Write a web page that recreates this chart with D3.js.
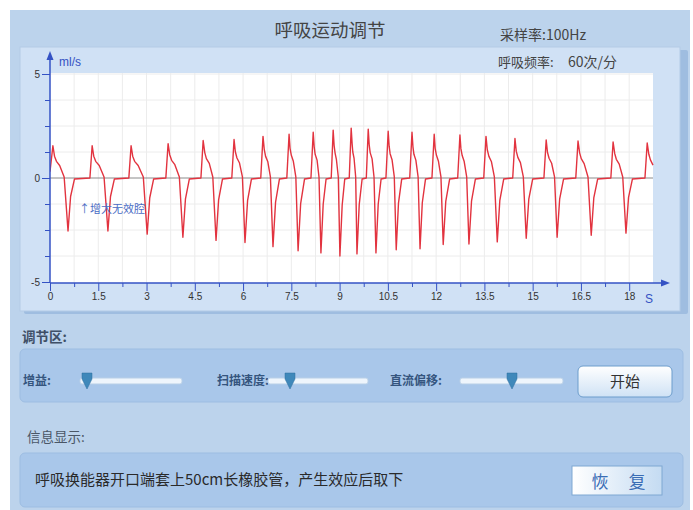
<!DOCTYPE html>
<html>
<head>
<meta charset="utf-8">
<script src="https://cdn.jsdelivr.net/npm/d3@7"></script>
<style>
  body { margin: 0; background: #fff; }
  svg text { font-family: "Noto Sans CJK SC", "Noto Sans", sans-serif; }
  .tick text { font-family: "Liberation Sans Narrow", "Liberation Sans", Arial, sans-serif; }
</style>
</head>
<body>
<div class="chart"></div>
<script>
// 呼吸运动调节 - flow trace (ml/s) against time (s)

var xMajor = [0, 1.5, 3, 4.5, 6, 7.5, 9, 10.5, 12, 13.5, 15, 16.5, 18];
var xMinor = [0.75, 2.25, 3.75, 5.25, 6.75, 8.25, 9.75, 11.25, 12.75, 14.25, 15.75, 17.25];
var yTicks = [-5, -3.75, -2.5, -1.25, 0, 1.25, 2.5, 3.75, 5];
var yLabels = [-5, 0, 5];

// breath cycles: [time s, flow ml/s]
var wave = [
  [[0, 0.3], [0.09, 1.55], [0.14, 1.05], [0.20, 0.8], [0.30, 0.6], [0.44, 0.05], [0.56, -2.55], [0.64, -0.89], [0.76, -0.05]],
  [[1.24, 0], [1.31, 1.55], [1.36, 1.05], [1.42, 0.8], [1.53, 0.6], [1.68, 0.05], [1.80, -2.55], [1.88, -0.89], [2.00, -0.05]],
  [[2.45, 0], [2.52, 1.55], [2.57, 1.05], [2.63, 0.8], [2.74, 0.6], [2.90, 0.05], [3.02, -2.7], [3.10, -0.95], [3.22, -0.05]],
  [[3.60, 0], [3.67, 1.65], [3.72, 1.12], [3.78, 0.85], [3.88, 0.64], [4.02, 0.05], [4.13, -2.85], [4.21, -1.0], [4.33, -0.05]],
  [[4.69, 0], [4.76, 1.8], [4.81, 1.22], [4.86, 0.93], [4.95, 0.7], [5.06, 0.05], [5.16, -3.0], [5.24, -1.05], [5.36, -0.05]],
  [[5.65, 0], [5.72, 1.85], [5.76, 1.26], [5.81, 0.96], [5.89, 0.72], [5.98, 0.05], [6.06, -3.1], [6.14, -1.09], [6.26, -0.05]],
  [[6.55, 0], [6.62, 2.0], [6.66, 1.36], [6.70, 1.04], [6.77, 0.78], [6.85, 0.05], [6.93, -3.3], [7.01, -1.16], [7.13, -0.05]],
  [[7.36, 0], [7.43, 2.1], [7.46, 1.43], [7.50, 1.09], [7.56, 0.82], [7.64, 0.05], [7.71, -3.5], [7.79, -1.23], [7.91, -0.05]],
  [[8.11, 0], [8.18, 2.2], [8.21, 1.5], [8.24, 1.14], [8.30, 0.86], [8.36, 0.05], [8.42, -3.6], [8.49, -1.26], [8.58, -0.05]],
  [[8.74, 0], [8.80, 2.3], [8.83, 1.56], [8.86, 1.2], [8.90, 0.9], [8.96, 0.05], [9.01, -3.75], [9.08, -1.31], [9.16, -0.05]],
  [[9.30, 0], [9.36, 2.4], [9.39, 1.63], [9.41, 1.25], [9.45, 0.94], [9.50, 0.05], [9.54, -3.65], [9.61, -1.28], [9.70, -0.05]],
  [[9.83, 0], [9.89, 2.35], [9.92, 1.6], [9.95, 1.22], [10.01, 0.92], [10.07, 0.05], [10.13, -3.6], [10.20, -1.26], [10.29, -0.05]],
  [[10.44, 0], [10.51, 2.25], [10.54, 1.53], [10.57, 1.17], [10.63, 0.88], [10.70, 0.05], [10.76, -3.45], [10.83, -1.21], [10.93, -0.05]],
  [[11.18, 0], [11.25, 2.2], [11.28, 1.5], [11.31, 1.14], [11.37, 0.86], [11.44, 0.05], [11.50, -3.4], [11.57, -1.19], [11.67, -0.05]],
  [[11.87, 0], [11.94, 2.1], [11.97, 1.43], [12.01, 1.09], [12.07, 0.82], [12.15, 0.05], [12.22, -3.2], [12.30, -1.12], [12.42, -0.05]],
  [[12.67, 0], [12.74, 2.07], [12.77, 1.41], [12.81, 1.08], [12.87, 0.81], [12.95, 0.05], [13.02, -3.17], [13.10, -1.11], [13.22, -0.05]],
  [[13.48, 0], [13.55, 2.0], [13.59, 1.36], [13.64, 1.04], [13.72, 0.78], [13.81, 0.05], [13.90, -3.07], [13.98, -1.07], [14.10, -0.05]],
  [[14.38, 0], [14.45, 1.9], [14.49, 1.29], [14.54, 0.99], [14.62, 0.74], [14.71, 0.05], [14.80, -2.9], [14.88, -1.02], [15.00, -0.05]],
  [[15.35, 0], [15.42, 1.83], [15.46, 1.24], [15.51, 0.95], [15.59, 0.71], [15.68, 0.05], [15.76, -2.85], [15.84, -1.0], [15.96, -0.05]],
  [[16.34, 0], [16.41, 1.78], [16.46, 1.21], [16.51, 0.93], [16.60, 0.69], [16.72, 0.05], [16.82, -2.75], [16.90, -0.96], [17.02, -0.05]],
  [[17.43, 0], [17.50, 1.73], [17.55, 1.18], [17.60, 0.9], [17.69, 0.67], [17.80, 0.05], [17.90, -2.65], [17.98, -0.93], [18.10, -0.05]],
  [[18.49, 0], [18.56, 1.68], [18.61, 1.14], [18.66, 0.87], [18.74, 0.62]]
];

var titleText = "呼吸运动调节";
var rateText = "采样率:100Hz";
var freqText = "呼吸频率:";
var freqValue = "60次/分";
var noteText = "↑增大无效腔";
var infoText = "呼吸换能器开口端套上50cm长橡胶管，产生效应后取下";
var sliderLabels = ["增益:", "扫描速度:", "直流偏移:"];

var svgWidth = 693;
var svgHeight = 510;

var svg = d3.select(".chart")
  .append("svg")
  .attr("width", svgWidth)
  .attr("height", svgHeight);

var defs = svg.append("defs");
var btnGrad = defs.append("linearGradient").attr("id", "btnGrad")
  .attr("x1", 0).attr("y1", 0).attr("x2", 0).attr("y2", 1);
btnGrad.append("stop").attr("offset", "0%").attr("stop-color", "#ffffff");
btnGrad.append("stop").attr("offset", "100%").attr("stop-color", "#cfe2f5");
var btnGrad2 = defs.append("linearGradient").attr("id", "btnGrad2")
  .attr("x1", 0).attr("y1", 0).attr("x2", 1).attr("y2", 0);
btnGrad2.append("stop").attr("offset", "0%").attr("stop-color", "#ffffff");
btnGrad2.append("stop").attr("offset", "100%").attr("stop-color", "#c4dbf2");
defs.append("clipPath").attr("id", "plotClip")
  .append("rect").attr("x", 50).attr("y", 60).attr("width", 604).attr("height", 224);

// outer background
svg.append("rect")
  .attr("x", 10).attr("y", 10)
  .attr("width", 680).attr("height", 500)
  .attr("fill", "#bcd3ec");

svg.append("text")
  .attr("x", 330).attr("y", 37)
  .attr("text-anchor", "middle")
  .style("font-size", "18.5px")
  .style("fill", "#444")
  .text(titleText);

svg.append("text")
  .attr("x", 500).attr("y", 40)
  .style("font-size", "14px")
  .style("fill", "#444")
  .text(rateText);

// plot panel
svg.append("rect")
  .attr("x", 24).attr("y", 50)
  .attr("width", 664).attr("height", 264)
  .attr("rx", 2)
  .attr("fill", "#9fbde0");
svg.append("rect")
  .attr("x", 20).attr("y", 47)
  .attr("width", 660).attr("height", 264)
  .attr("fill", "#d0e1f5")
  .attr("stroke", "#b3cbe6");

svg.append("text")
  .attr("x", 498).attr("y", 67)
  .style("font-size", "13px")
  .style("fill", "#444")
  .text(freqText);
svg.append("text")
  .attr("x", 568).attr("y", 67)
  .style("font-size", "14px")
  .style("fill", "#444")
  .text(freqValue);

var xScale = d3.scaleLinear().domain([0, 18.74]).range([50, 653]);
var yScale = d3.scaleLinear().domain([-5, 5]).range([282, 74]);

var chartGroup = svg.append("g");

chartGroup.append("rect")
  .attr("x", 50).attr("y", 73)
  .attr("width", 603).attr("height", 210)
  .attr("fill", "#ffffff");

// grid
chartGroup.selectAll(".vgrid")
  .data(xMinor.concat(xMajor.slice(1)))
  .enter()
  .append("line")
  .attr("x1", d => xScale(d)).attr("x2", d => xScale(d))
  .attr("y1", 73).attr("y2", 283)
  .attr("stroke", "#ececec")
  .attr("stroke-width", 1);

chartGroup.selectAll(".hgrid")
  .data(yTicks.filter(d => d !== 0 && d !== -5))
  .enter()
  .append("line")
  .attr("x1", 50).attr("x2", 653)
  .attr("y1", d => yScale(d)).attr("y2", d => yScale(d))
  .attr("stroke", "#ececec")
  .attr("stroke-width", 1);

// zero line
chartGroup.append("line")
  .attr("x1", 50).attr("x2", 653)
  .attr("y1", yScale(0)).attr("y2", yScale(0))
  .attr("stroke", "#8a8a8a")
  .attr("stroke-width", 1);

// trace
var flow = [];
wave.forEach(c => c.forEach(p => flow.push(p)));

var line = d3.line()
  .x(d => xScale(d[0]))
  .y(d => yScale(d[1]));

chartGroup.append("path")
  .datum(flow)
  .attr("clip-path", "url(#plotClip)")
  .attr("d", line)
  .attr("fill", "none")
  .attr("stroke", "#e2333f")
  .attr("stroke-width", 1.4)
  .attr("stroke-linejoin", "round");

chartGroup.append("text")
  .attr("x", 79).attr("y", 213)
  .style("font-size", "11px")
  .style("fill", "#4a6cc4")
  .text(noteText);

// axes
var axisColor = "#3452c4";

var bottomAxis = d3.axisBottom(xScale)
  .tickValues(xMajor)
  .tickSizeInner(8)
  .tickSizeOuter(0)
  .tickPadding(2)
  .tickFormat(d => d);
var minorAxis = d3.axisBottom(xScale)
  .tickValues(xMinor)
  .tickSizeInner(4)
  .tickSizeOuter(0)
  .tickFormat("");

var xAxis = chartGroup.append("g")
  .attr("transform", "translate(0, 283)")
  .call(bottomAxis);
var xMinorAxis = chartGroup.append("g")
  .attr("transform", "translate(0, 283)")
  .call(minorAxis);

var leftAxis = d3.axisLeft(yScale)
  .tickValues(yTicks)
  .tickSizeInner(5)
  .tickSizeOuter(0)
  .tickFormat("");
var labelAxis = d3.axisLeft(yScale)
  .tickValues(yLabels)
  .tickSizeInner(8)
  .tickSizeOuter(0)
  .tickPadding(2)
  .tickFormat(d => d);

var yAxis = chartGroup.append("g")
  .attr("transform", "translate(50, 0)")
  .call(leftAxis);
var yLabelAxis = chartGroup.append("g")
  .attr("transform", "translate(50, 0)")
  .call(labelAxis);

chartGroup.selectAll(".domain").remove();
chartGroup.selectAll(".tick line").attr("stroke", axisColor);
chartGroup.selectAll(".tick text")
  .style("font-size", "10px")
  .style("fill", "#333");

chartGroup.append("line")
  .attr("x1", 50).attr("x2", 664)
  .attr("y1", 283).attr("y2", 283)
  .attr("stroke", axisColor).attr("stroke-width", 1.5);
chartGroup.append("path")
  .attr("d", "M670,283 L661,279.5 L661,286.5 Z")
  .attr("fill", axisColor);
chartGroup.append("line")
  .attr("x1", 50).attr("x2", 50)
  .attr("y1", 283).attr("y2", 58)
  .attr("stroke", axisColor).attr("stroke-width", 1.5);
chartGroup.append("path")
  .attr("d", "M50,51 L46.5,60 L53.5,60 Z")
  .attr("fill", axisColor);

chartGroup.append("text")
  .attr("x", 59).attr("y", 66)
  .style("font-family", "Liberation Sans, Arial, sans-serif")
  .style("font-size", "12px")
  .style("fill", axisColor)
  .text("ml/s");
chartGroup.append("text")
  .attr("x", 645).attr("y", 303)
  .style("font-family", "Liberation Sans, Arial, sans-serif")
  .style("font-size", "12px")
  .style("fill", axisColor)
  .text("S");

// control area
svg.append("text")
  .attr("x", 22).attr("y", 342)
  .style("font-size", "13.5px")
  .style("font-weight", "bold")
  .style("fill", "#3f4f66")
  .text("调节区:");

svg.append("rect")
  .attr("x", 20).attr("y", 349)
  .attr("width", 663).attr("height", 53)
  .attr("rx", 5)
  .attr("fill", "#a9c7ea")
  .attr("stroke", "#9dbde2");

var sliderLabelX = [23, 217, 390];
var trackX = [[80, 182], [268, 368], [460, 563]];
var thumbX = [87, 290, 512];

sliderLabels.forEach(function(lbl, i) {
  svg.append("text")
    .attr("x", sliderLabelX[i]).attr("y", 385)
    .style("font-size", "12px")
    .style("font-weight", "bold")
    .style("fill", "#35557e")
    .text(lbl);
  svg.append("rect")
    .attr("x", trackX[i][0]).attr("y", 378)
    .attr("width", trackX[i][1] - trackX[i][0]).attr("height", 6)
    .attr("rx", 2)
    .attr("fill", "#eef5fc")
    .attr("stroke", "#b8cfe7");
  var tx = thumbX[i];
  svg.append("path")
    .attr("d", `M${tx - 5},373 L${tx + 5},373 L${tx + 5},379 L${tx},389 L${tx - 5},379 Z`)
    .attr("fill", "#3f88ba")
    .attr("stroke", "#2f6f9e")
    .attr("stroke-width", 0.5);
});

svg.append("rect")
  .attr("x", 578).attr("y", 366)
  .attr("width", 94).attr("height", 31)
  .attr("rx", 5)
  .attr("fill", "url(#btnGrad)")
  .attr("stroke", "#6d9dcc");
svg.append("text")
  .attr("x", 625).attr("y", 387)
  .attr("text-anchor", "middle")
  .style("font-size", "15px")
  .style("fill", "#333")
  .text("开始");

// info area
svg.append("text")
  .attr("x", 27).attr("y", 442)
  .style("font-size", "13.5px")
  .style("fill", "#4a5666")
  .text("信息显示:");

svg.append("rect")
  .attr("x", 20).attr("y", 453)
  .attr("width", 663).attr("height", 54)
  .attr("rx", 5)
  .attr("fill", "#a9c7ea")
  .attr("stroke", "#9dbde2");

svg.append("text")
  .attr("x", 35).attr("y", 485)
  .style("font-size", "15px")
  .style("fill", "#2a2a2a")
  .text(infoText);

svg.append("rect")
  .attr("x", 572).attr("y", 466)
  .attr("width", 90).attr("height", 29)
  .attr("fill", "url(#btnGrad2)")
  .attr("stroke", "#7fa8d2");
svg.append("text")
  .attr("x", 600).attr("y", 488)
  .attr("text-anchor", "middle")
  .style("font-size", "17px")
  .style("fill", "#3a6db5")
  .text("恢");
svg.append("text")
  .attr("x", 637).attr("y", 488)
  .attr("text-anchor", "middle")
  .style("font-size", "17px")
  .style("fill", "#3a6db5")
  .text("复");
</script>
</body>
</html>
